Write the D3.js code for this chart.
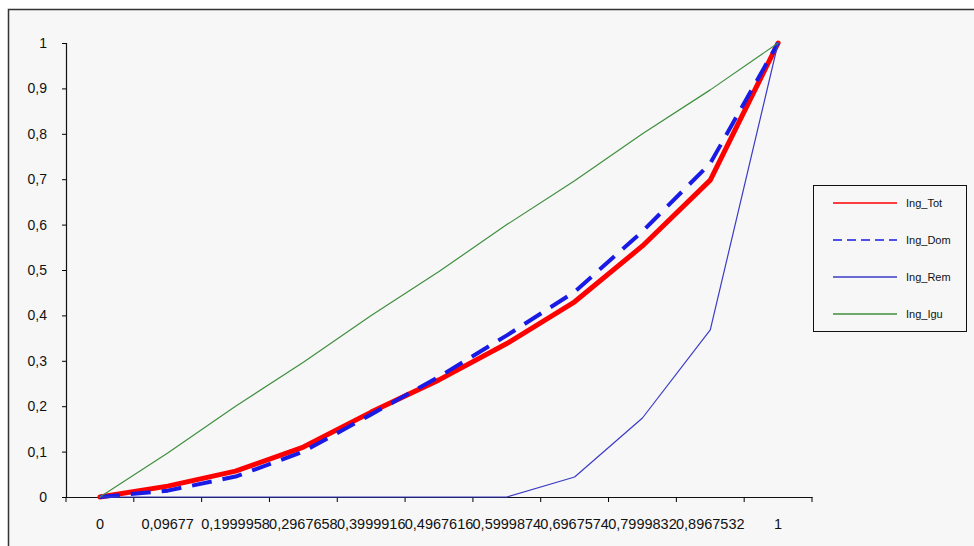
<!DOCTYPE html>
<html>
<head>
<meta charset="utf-8">
<script src="https://cdn.jsdelivr.net/npm/d3@7"></script>
<style>
  body { margin: 0; background: #ffffff; }
  svg { display: block; font-family: "Liberation Sans", Arial, sans-serif; }
</style>
</head>
<body>
<div id="container"><svg></svg></div>
<script>
let width = 974;
let height = 546;

// categories (x) as printed on the axis
let categories = ["0", "0,09677", "0,1999958", "0,2967658", "0,3999916", "0,4967616",
                  "0,5999874", "0,6967574", "0,7999832", "0,8967532", "1"];
// series values
let ing_tot = [0, 0.024, 0.057, 0.11, 0.187, 0.258, 0.338, 0.43, 0.553, 0.698, 1];
let ing_dom = [0, 0.014, 0.045, 0.10, 0.182, 0.265, 0.356, 0.452, 0.585, 0.735, 1];
let ing_rem = [0, 0, 0, 0, 0, 0, 0, 0.044, 0.174, 0.368, 1];
let ing_igu = [0, 0.09677, 0.1999958, 0.2967658, 0.3999916, 0.4967616,
               0.5999874, 0.6967574, 0.7999832, 0.8967532, 1];
let series_names = ["Ing_Tot", "Ing_Dom", "Ing_Rem", "Ing_Igu"];
let y_ticks = [0, 0.1, 0.2, 0.3, 0.4, 0.5, 0.6, 0.7, 0.8, 0.9, 1];

let styles = {
    "Ing_Tot": {color: "#ff0000", w: 5, dash: null},
    "Ing_Dom": {color: "#1a1ae6", w: 4, dash: "20,11"},
    "Ing_Rem": {color: "#3b3bc8", w: 1.2, dash: null},
    "Ing_Igu": {color: "#3f8f3f", w: 1.2, dash: null}
};

function draw_chart() {
    let svg = d3.select('#container').select('svg')
        .attr('width', width)
        .attr('height', height);

    // chart area frame
    svg.append("rect")
        .attr("x", 8.5).attr("y", 9.5)
        .attr("width", width + 10).attr("height", height + 10)
        .attr("fill", "#f7f7f7")
        .attr("stroke", "#333").attr("stroke-width", 1.5);

    let x = d3.scaleBand().domain(categories).range([66, 812]).padding(0);
    let y = d3.scaleLinear().domain([0, 1]).range([497, 43]);
    let cx = c => x(c) + x.bandwidth() / 2;

    // y axis
    let yAxis = svg.append("g")
        .attr("transform", "translate(66,0)")
        .call(d3.axisLeft(y).tickValues(y_ticks).tickSize(4).tickPadding(15)
            .tickFormat(d => d3.format("")(d).replace(".", ",")));
    yAxis.selectAll("text").attr("font-size", 14).attr("fill", "#111")
        .attr("font-family", "'Liberation Sans', Arial, sans-serif");

    // x axis
    let xAxis = svg.append("g")
        .attr("transform", "translate(0,497)")
        .call(d3.axisBottom(x).tickSize(0).tickPadding(22));
    xAxis.selectAll("text").attr("font-size", 14.5).attr("fill", "#111")
        .attr("font-family", "'Liberation Sans', Arial, sans-serif");
    // tick marks between categories
    xAxis.selectAll("line.cat")
        .data(categories.concat(["end"]))
        .join("line")
        .attr("class", "cat")
        .attr("x1", (d, i) => 66 + i * x.bandwidth())
        .attr("x2", (d, i) => 66 + i * x.bandwidth())
        .attr("y1", 0).attr("y2", 5)
        .attr("stroke", "#000");
    svg.selectAll(".domain").attr("stroke", "#111").attr("stroke-width", 1.2);

    // lines
    let values = {"Ing_Tot": ing_tot, "Ing_Dom": ing_dom, "Ing_Rem": ing_rem, "Ing_Igu": ing_igu};
    let line = d3.line().x(d => cx(d.c)).y(d => y(d.v));
    let order = ["Ing_Tot", "Ing_Dom", "Ing_Rem", "Ing_Igu"];
    for (let name of order) {
        let pts = categories.map((c, i) => ({c: c, v: values[name][i]}));
        let st = styles[name];
        svg.append("path")
            .datum(pts)
            .attr("d", line)
            .attr("fill", "none")
            .attr("stroke", st.color)
            .attr("stroke-width", st.w)
            .attr("stroke-dasharray", st.dash)
            .attr("stroke-linejoin", "round")
            .attr("stroke-linecap", st.dash ? "butt" : "round");
    }

    // legend
    let lg = svg.append("g");
    lg.append("rect")
        .attr("x", 813.5).attr("y", 185.5)
        .attr("width", 153).attr("height", 146)
        .attr("fill", "#f7f7f7").attr("stroke", "#111").attr("stroke-width", 1);
    let ly = [203, 240, 277, 314];
    series_names.forEach((name, i) => {
        let st = styles[name];
        lg.append("line")
            .attr("x1", 833).attr("x2", 897)
            .attr("y1", ly[i]).attr("y2", ly[i])
            .attr("stroke", st.color)
            .attr("stroke-width", 1.5)
            .attr("stroke-dasharray", st.dash ? "9,5" : null);
        lg.append("text")
            .attr("x", 906).attr("y", ly[i])
            .attr("dy", "0.35em")
            .attr("font-size", 11)
            .attr("fill", "#111")
            .text(name);
    });
}

draw_chart();
</script>
</body>
</html>
